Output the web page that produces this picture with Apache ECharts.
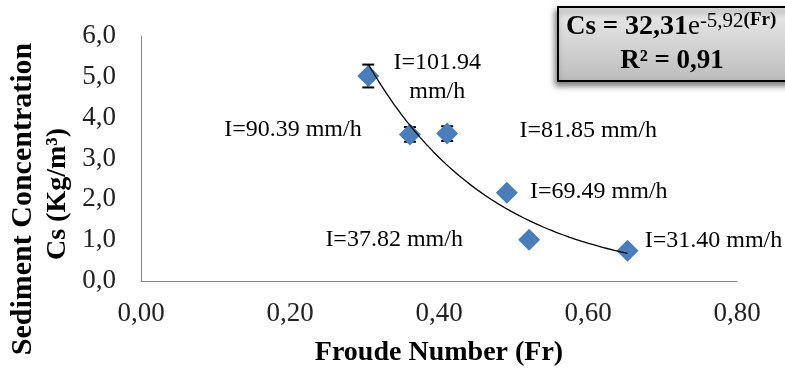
<!DOCTYPE html>
<html>
<head>
<meta charset="utf-8">
<script src="https://cdn.jsdelivr.net/npm/echarts@6/dist/echarts.min.js"></script>
<style>
html, body { margin: 0; padding: 0; background: #fff; }
#chart { width: 785px; height: 374px; }
</style>
</head>
<body>
<div id="chart"></div>
<script>
// Froude number vs sediment concentration
var froude = [0.305, 0.361, 0.411, 0.491, 0.521, 0.653];
var conc = [5.02, 3.59, 3.61, 2.16, 1.01, 0.74];
var concErr = [0.28, 0.18, 0.18, 0, 0, 0];
var intensity = ['I=101.94\nmm/h', 'I=90.39 mm/h', 'I=81.85 mm/h', 'I=69.49 mm/h', 'I=37.82 mm/h', 'I=31.40 mm/h'];
// fitted exponential trend shown in the box: Cs = a * e^(b*Fr)
var fitA = 32.31, fitB = -5.92, fitR2 = '0,91';

// label placement (px from point centre)
var labelOffsets = [[69, 1], [-117, -5], [141, -3], [92, -1], [-135, 0], [86, -10]];

var serif = 'Liberation Serif';
var comma = function (v, d) { return v.toFixed(d).replace('.', ','); };

var points = froude.map(function (f, i) {
  return { value: [f, conc[i]], label: { offset: labelOffsets[i] } };
});
var errData = froude.map(function (f, i) { return [f, conc[i], concErr[i]]; });

var trend = [];
var x0 = froude[0], x1 = froude[froude.length - 1];
for (var k = 0; k <= 40; k++) {
  var fx = x0 + (x1 - x0) * k / 40;
  trend.push([fx, fitA * Math.exp(fitB * fx)]);
}

var chart = echarts.init(document.getElementById('chart'));
chart.setOption({
  animation: false,
  grid: { left: 141, right: 48, top: 36, bottom: 93, outerBoundsMode: 'none' },
  xAxis: {
    type: 'value', min: 0, max: 0.8, interval: 0.2,
    name: 'Froude Number (Fr)', nameLocation: 'middle', nameGap: 58,
    nameTextStyle: { fontFamily: serif, fontSize: 28, fontWeight: 'bold', color: '#000' },
    axisLine: { show: true, lineStyle: { color: '#888', width: 1 } },
    axisTick: { show: false },
    splitLine: { show: false },
    axisLabel: { margin: 19, fontFamily: serif, fontSize: 27, color: '#222', formatter: function (v) { return comma(v, 2); } }
  },
  yAxis: {
    type: 'value', min: 0, max: 6, interval: 1,
    axisLine: { show: true, lineStyle: { color: '#888', width: 1 } },
    axisTick: { show: false },
    splitLine: { show: false },
    axisLabel: { margin: 25, fontFamily: serif, fontSize: 27, color: '#222', formatter: function (v) { return comma(v, 1); } }
  },
  series: [
    {
      type: 'custom',
      data: errData,
      z: 2,
      renderItem: function (params, api) {
        var e = api.value(2);
        if (!e) return null;
        var x = api.value(0), y = api.value(1);
        var top = api.coord([x, y + e]), bot = api.coord([x, y - e]);
        var w = 6;
        var st = { stroke: '#000', lineWidth: 2 };
        return {
          type: 'group',
          children: [
            { type: 'line', shape: { x1: top[0], y1: top[1], x2: bot[0], y2: bot[1] }, style: st },
            { type: 'line', shape: { x1: top[0] - w, y1: top[1], x2: top[0] + w, y2: top[1] }, style: st },
            { type: 'line', shape: { x1: bot[0] - w, y1: bot[1], x2: bot[0] + w, y2: bot[1] }, style: st }
          ]
        };
      }
    },
    {
      type: 'scatter',
      data: points,
      symbol: 'diamond',
      symbolSize: 22,
      z: 3,
      itemStyle: { color: '#4A7EBB', opacity: 1 },
      label: {
        show: true, position: 'inside', align: 'center', verticalAlign: 'middle',
        fontFamily: serif, fontSize: 24, color: '#000', lineHeight: 29,
        formatter: function (p) { return intensity[p.dataIndex]; }
      }
    },
    {
      type: 'line',
      data: trend,
      showSymbol: false,
      z: 4,
      lineStyle: { color: '#000', width: 1.3 },
      silent: true
    }
  ],
  graphic: [
    {
      type: 'text', x: 23, y: 199, rotation: Math.PI / 2,
      style: { text: 'Sediment Concentration', align: 'center', verticalAlign: 'middle',
        fontFamily: serif, fontSize: 30, fontWeight: 'bold', fill: '#000' }
    },
    {
      type: 'text', x: 58, y: 194, rotation: Math.PI / 2,
      style: { text: 'Cs (Kg/m³)', align: 'center', verticalAlign: 'middle',
        fontFamily: serif, fontSize: 28, fontWeight: 'bold', fill: '#000' }
    },
    {
      type: 'rect', left: 557, top: 6, z: 10,
      shape: { width: 240, height: 74 },
      style: {
        fill: new echarts.graphic.LinearGradient(0, 0, 0, 1, [
          { offset: 0, color: '#ececec' }, { offset: 1, color: '#bcbcbc' }
        ]),
        stroke: '#000', lineWidth: 2,
        shadowBlur: 6, shadowOffsetX: -2, shadowOffsetY: 4, shadowColor: 'rgba(0,0,0,0.5)'
      }
    },
    {
      type: 'text', x: 566, y: 27, z: 11,
      style: {
        text: '{a|Cs = }{b|' + comma(fitA, 2) + '}{e|e}{s|' + comma(fitB, 2) + '}{f|(Fr)}',
        verticalAlign: 'middle',
        rich: {
          a: { fontFamily: serif, fontSize: 27, fontWeight: 'bold', fill: '#000' },
          b: { fontFamily: serif, fontSize: 28, fontWeight: 'bold', fill: '#000' },
          e: { fontFamily: serif, fontSize: 27, fill: '#000' },
          s: { fontFamily: serif, fontSize: 21, fill: '#000', verticalAlign: 'top', padding: [0, 0, 12, 0] },
          f: { fontFamily: serif, fontSize: 19, fontWeight: 'bold', fill: '#000', verticalAlign: 'top', padding: [0, 0, 12, 0] }
        }
      }
    },
    {
      type: 'text', x: 672, y: 61, z: 11,
      style: {
        text: 'R² = ' + fitR2,
        align: 'center', verticalAlign: 'middle',
        fontFamily: serif, fontSize: 27, fontWeight: 'bold', fill: '#000'
      }
    }
  ]
});
</script>
</body>
</html>
